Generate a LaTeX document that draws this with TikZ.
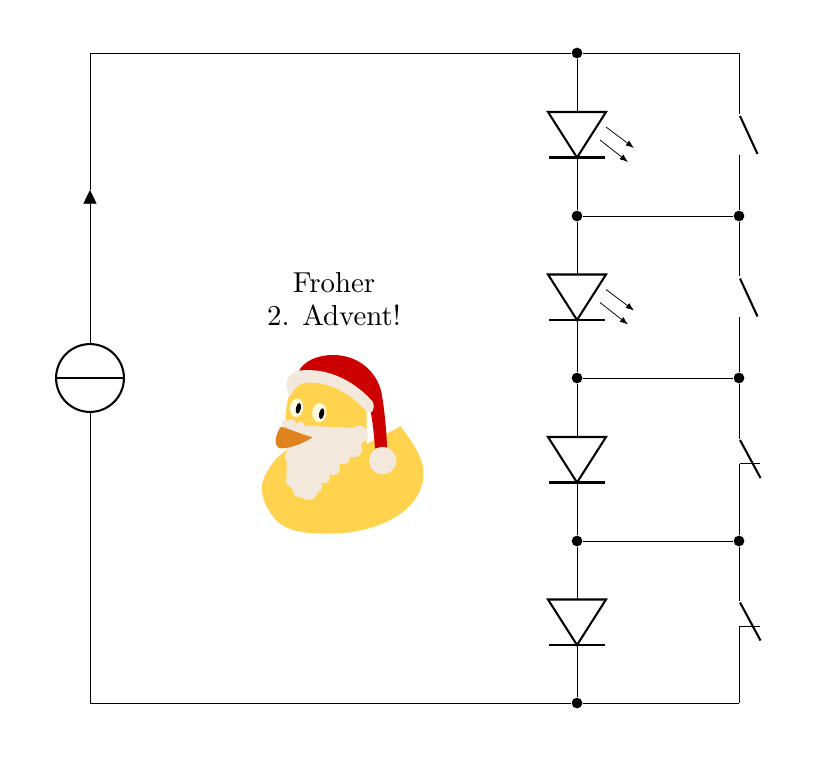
\documentclass[tikz,border=0pt]{standalone}
\usetikzlibrary{arrows.meta}
\definecolor{duckyellow}{HTML}{FFD34E}
\definecolor{santared}{HTML}{CC0000}
\definecolor{santawhite}{HTML}{F2E8DC}
\definecolor{beakorange}{HTML}{E0821E}
\definecolor{eyecream}{HTML}{FFFAE0}
\tikzset{
  wire/.style={line width=0.28pt},
  part/.style={line width=0.75pt},
  dot/.style={circle,fill=black,inner sep=0pt,minimum size=3.9pt},
  source/.style={circle,draw,line width=0.75pt,inner sep=0pt,minimum size=24.7pt},
  diodesym/.pic={
    \draw[part,line join=miter] (-29,0) -- (29,0) -- (0,45.5) -- cycle;
    \draw[part] (-28,45.5) -- (28,45.5);
    \coordinate (-a) at (0,0);
    \coordinate (-k) at (0,45.5);
  },
  ledrays/.pic={
    \draw[wire,-{Latex[length=3pt,width=2.2pt]}] (29,15) -- (57,36);
    \draw[wire,-{Latex[length=3pt,width=2.2pt]}] (23,28) -- (51,50);
  },
  noswitch/.pic={
    \draw[part] (0.5,0) -- (18,38);
    \coordinate (-t) at (0,-1);
    \coordinate (-b) at (0,40);
  },
  ncswitch/.pic={
    \draw[part] (0.5,0) -- (21,38);
    \draw[wire] (20,23.5) -- (0,23.5);
    \coordinate (-t) at (0,-1);
    \coordinate (-b) at (0,23.5);
  }
}
\begin{document}
\begin{tikzpicture}[x=0.364pt,y=-0.364pt]
\useasboundingbox (0,0) rectangle (824,762);
% junctions
\node[dot] (j1) at (577,53) {};
\node[dot] (j2) at (577,216) {};
\node[dot] (j3) at (577,378) {};
\node[dot] (j4) at (577,541) {};
\node[dot] (j5) at (577,703) {};
\node[dot] (r2) at (739,216) {};
\node[dot] (r3) at (739,378) {};
\node[dot] (r4) at (739,541) {};
\coordinate (tl) at (90,53);
\coordinate (bl) at (90,703);
\coordinate (tr) at (739,53);
\coordinate (br) at (739,703);
\coordinate (tip) at (90,190);
% source
\node[source] (src) at (90,378) {};
\draw[part] (src.west) -- (src.east);
\draw[wire,-{Triangle[length=5pt,width=4.8pt]}] (src.north) -- (tip);
\draw[wire] (tip) -- (tl) -- (j1);
\draw[wire] (src.south) -- (bl) -- (j5);
\draw[wire] (j1) -- (tr);
\draw[wire] (j5) -- (br);
% diodes
\pic (d1) at (577,112) {diodesym};
\pic (d2) at (577,274.5) {diodesym};
\pic (d3) at (577,437) {diodesym};
\pic (d4) at (577,599.5) {diodesym};
\pic at (577,112) {ledrays};
\pic at (577,274.5) {ledrays};
\draw[wire] (j1) -- (d1-a) (d1-k) -- (j2) -- (d2-a) (d2-k) -- (j3) -- (d3-a) (d3-k) -- (j4) -- (d4-a) (d4-k) -- (j5);
\draw[wire] (j2) -- (r2) (j3) -- (r3) (j4) -- (r4);
% switches
\pic (s1) at (739.5,116) {noswitch};
\pic (s2) at (739.5,278.5) {noswitch};
\pic (s3) at (739.5,440) {ncswitch};
\pic (s4) at (739.5,602.5) {ncswitch};
\draw[wire] (tr) -- (739,114) (739,155) -- (r2) -- (739,276) (739,317) -- (r3) -- (739,439) (739,463.5) -- (r4) -- (739,601) (739,626) -- (br);
% text
\node[align=center,inner sep=0pt,font=\fontsize{10.5pt}{12pt}\selectfont] (greeting) at (334,299) {Froher\\2. Advent!};
% duck, drawn in a local 3:1 frame
\begin{scope}[shift={(240,340)},x=0.12133pt,y=-0.12133pt]
  \fill[duckyellow] (482,259) .. controls (525,315) and (555,365) .. (550,410)
     .. controls (545,500) and (440,570) .. (300,580)
     .. controls (200,585) and (130,575) .. (100,530)
     .. controls (70,495) and (58,450) .. (70,420)
     .. controls (85,380) and (110,350) .. (140,330)
     -- (137,260) .. controls (135,220) and (140,170) .. (160,140)
     .. controls (200,110) and (310,130) .. (380,210)
     -- (380,312) -- cycle;
  \fill[santared] (175,95) .. controls (195,60) and (235,45) .. (280,45)
     .. controls (350,45) and (410,90) .. (425,160)
     .. controls (435,220) and (440,280) .. (441,325)
     -- (405,325) .. controls (402,280) and (397,240) .. (392,215)
     -- (300,130) -- cycle;
  \fill[santawhite] (150,172) .. controls (130,130) and (140,100) .. (175,92)
     .. controls (270,80) and (350,130) .. (398,185)
     .. controls (407,205) and (397,224) .. (382,218)
     .. controls (340,165) and (270,125) .. (205,127)
     .. controls (180,128) and (160,145) .. (150,172) -- cycle;
  \fill[santawhite] (428,362) circle[radius=41];
  % beard
  \fill[santawhite] (140,255) -- (370,265) -- (380,285) -- (358,322) -- (330,350)
     -- (290,380) -- (245,425) -- (225,465) -- (195,478) -- (165,460) -- (140,420) -- (140,330) -- cycle;
  \foreach \cx/\cy/\cr in {358/283/26,342/328/24,310/352/20,280/385/20,250/410/20,228/440/18,205/452/28,180/450/22,160/420/22,160/385/20,155/350/20}{
    \fill[santawhite] (\cx,\cy) circle[radius=\cr];
  }
  % beak
  \fill[beakorange] (125,260) .. controls (150,268) and (190,285) .. (218,292)
     .. controls (190,310) and (150,325) .. (125,325)
     .. controls (103,325) and (105,300) .. (110,285)
     .. controls (115,270) and (120,262) .. (125,260) -- cycle;
  \foreach \cx/\cy/\cr in {135/250/11,155/250/13,180/258/13,205/270/13,235/280/14,270/280/16,310/282/16}{
    \fill[santawhite] (\cx,\cy) circle[radius=\cr];
  }
  % eyes
  \fill[eyecream] (170,203) ellipse[x radius=2.4pt,y radius=3.4pt,rotate=-8];
  \fill[eyecream] (238,218) ellipse[x radius=2.6pt,y radius=3.5pt,rotate=-5];
  \fill[black] (175,205) ellipse[x radius=0.9pt,y radius=2pt,rotate=-12];
  \fill[black] (245,221) ellipse[x radius=0.9pt,y radius=2pt,rotate=-12];
\end{scope}
\end{tikzpicture}
\end{document}
